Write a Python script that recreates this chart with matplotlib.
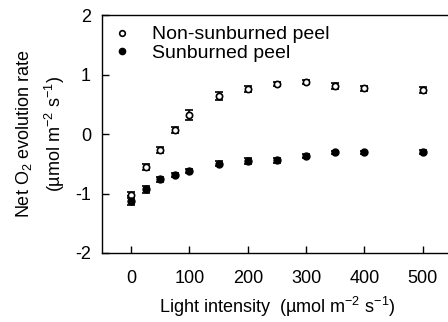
import matplotlib
matplotlib.use("Agg")
import matplotlib.pyplot as plt

plt.rcParams['font.family'] = ['Liberation Sans', 'DejaVu Sans']
plt.rcParams['mathtext.fontset'] = 'custom'
plt.rcParams['mathtext.rm'] = 'Liberation Sans'
plt.rcParams['mathtext.it'] = 'Liberation Sans:italic'
plt.rcParams['axes.unicode_minus'] = False

# light intensity (umol m-2 s-1)
light = [0, 25, 50, 75, 100, 150, 200, 250, 300, 350, 400, 500]

# net O2 evolution rate
non_sunburned = [-1.02, -0.55, -0.27, 0.07, 0.32, 0.64, 0.76, 0.84, 0.87, 0.81, 0.77, 0.74]
non_sunburned_err = [0.05, 0.05, 0.05, 0.05, 0.09, 0.06, 0.05, 0.04, 0.03, 0.05, 0.04, 0.05]
sunburned = [-1.12, -0.93, -0.76, -0.69, -0.62, -0.50, -0.45, -0.44, -0.37, -0.31, -0.31, -0.30]
sunburned_err = [0.07, 0.06, 0.04, 0.03, 0.03, 0.04, 0.05, 0.04, 0.03, 0.03, 0.03, 0.03]

x_ticks = [0, 100, 200, 300, 400, 500]
y_ticks = [-2, -1, 0, 1, 2]

fig = plt.figure(figsize=(4.48, 3.22), dpi=100)
ax = fig.add_axes([0.2277, 0.2143, 0.781, 0.739])

ax.errorbar(light, non_sunburned, yerr=non_sunburned_err, fmt='o', mfc='white', mec='black',
            mew=1.2, ms=4.5, ecolor='black', elinewidth=1.2, capsize=2.6, capthick=1.2,
            label='Non-sunburned peel', zorder=3)
ax.errorbar(light, sunburned, yerr=sunburned_err, fmt='o', mfc='black', mec='black',
            ms=5, ecolor='black', elinewidth=1.2, capsize=2.6, capthick=1.2,
            label='Sunburned peel', zorder=3)

ax.set_xlim(-50, 550)
ax.set_ylim(-2, 2)
ax.set_xticks(x_ticks)
ax.set_yticks(y_ticks)
ax.tick_params(direction='in', length=5, width=1, labelsize=13, pad=8)
ax.tick_params(axis='x', top=False, pad=12)
ax.tick_params(axis='y', right=False)
for s in ax.spines.values():
    s.set_linewidth(1)

ax.set_xlabel('Light intensity  (µmol m$^{-2}$ s$^{-1}$)', fontsize=13, labelpad=6)
ax.set_ylabel('Net O$_2$ evolution rate\n(µmol m$^{-2}$ s$^{-1}$)', fontsize=13,
              labelpad=6, linespacing=1.45)

handles, labels = ax.get_legend_handles_labels()
handles = [h[0] for h in handles]
ax.legend(handles, labels, loc='upper left', frameon=False, fontsize=14,
          handlelength=1.0, handletextpad=1.0, labelspacing=0.05,
          borderaxespad=0.35, borderpad=0.2, markerscale=0.9)

fig.savefig('out.png', dpi=100)
